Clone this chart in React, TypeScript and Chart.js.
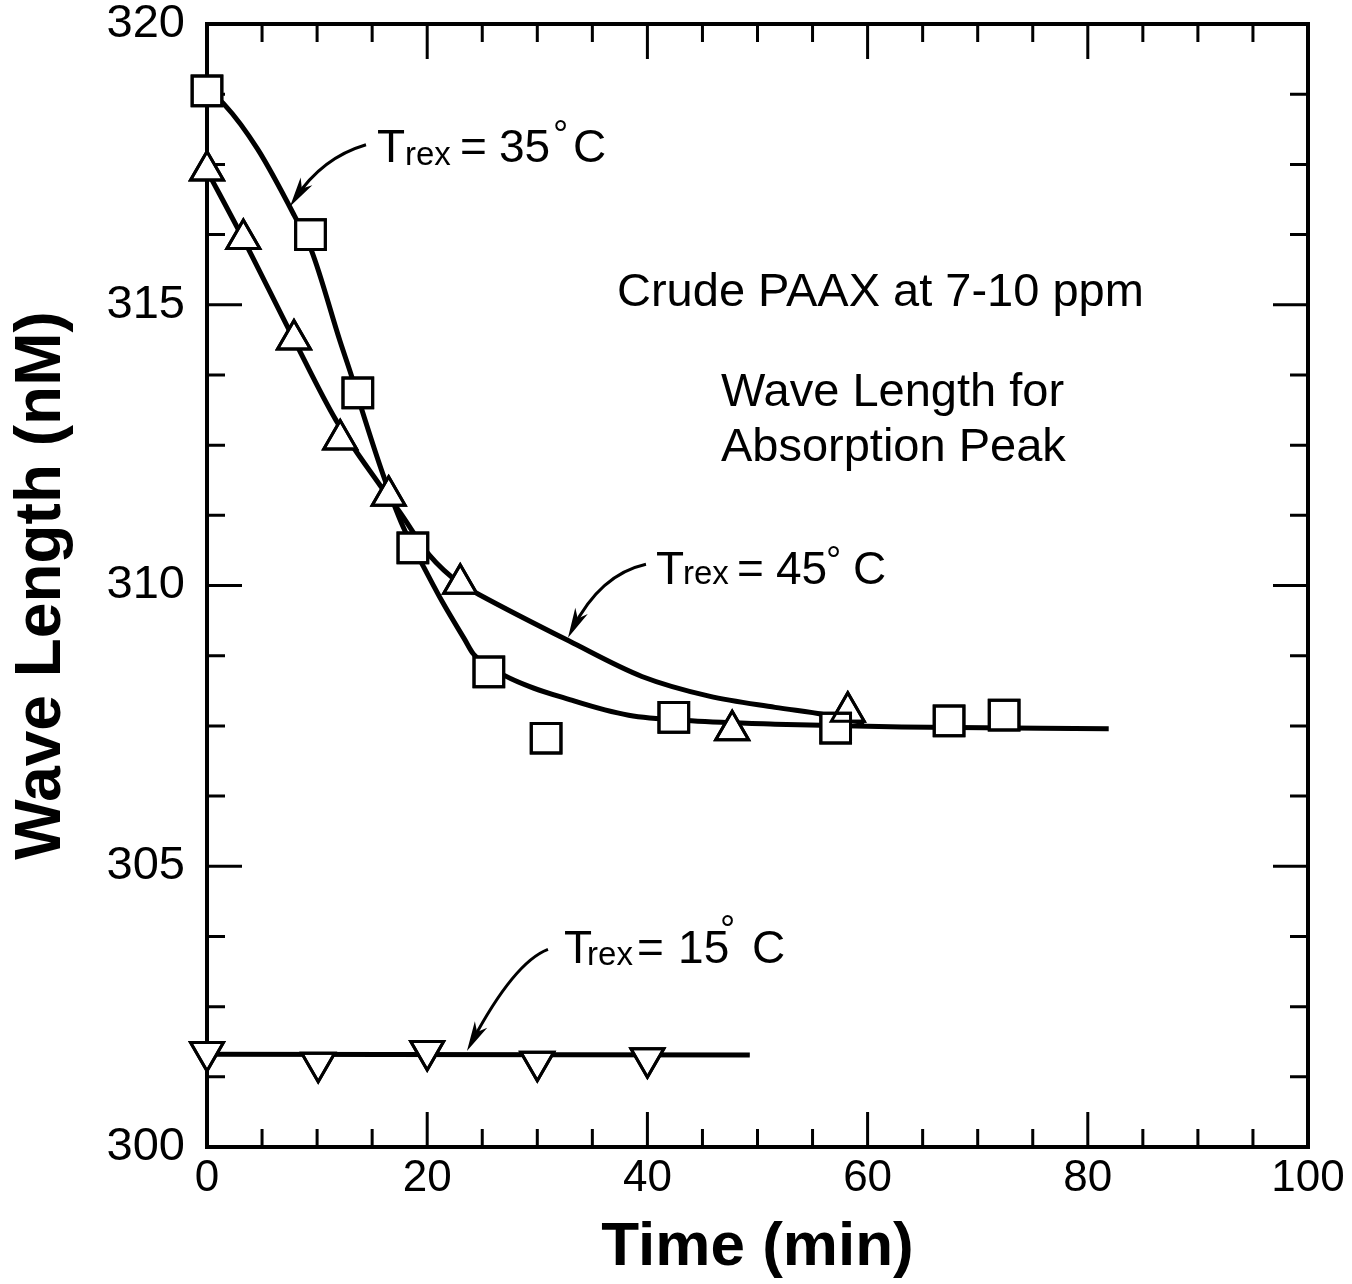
import React, { useEffect, useRef } from "react";
import { Chart, registerables } from "chart.js";

Chart.register(...registerables);

const FONT = "'Liberation Sans', Arial, Helvetica, sans-serif";

// Axis tick labels
const xTicks = [0, 20, 40, 60, 80, 100];
const yTicks = [300, 305, 310, 315, 320];

// T_rex = 35 °C (open squares)
const time35 = [0, 9.4, 13.7, 18.7, 25.6, 30.8, 42.4, 57.1, 67.4, 72.4];
const wave35 = [318.81, 316.25, 313.43, 310.67, 308.46, 307.28, 307.65, 307.46, 307.59, 307.69];

// T_rex = 45 °C (open triangles)
const time45 = [0, 3.3, 7.9, 12.1, 16.5, 23.0, 47.7, 58.2];
const wave45 = [317.39, 316.17, 314.38, 312.6, 311.6, 310.03, 307.42, 307.75];

// T_rex = 15 °C (open inverted triangles)
const time15 = [0, 10.1, 20.0, 30.0, 40.0];
const wave15 = [301.69, 301.5, 301.71, 301.52, 301.58];

// Fitted curves
const fit35Time = [0, 1.6, 4.6, 7.9, 9.5, 12.1, 13.1, 14.0, 16.0, 17.8, 19.6, 21.4, 23.4, 24.2, 27.0, 33.4, 38.3, 44.0, 51.6, 63.1, 81.9];
const fit35Wave = [318.81, 318.56, 317.77, 316.6, 315.96, 314.34, 313.75, 313.17, 311.97, 311.05, 310.36, 309.7, 309.04, 308.78, 308.4, 307.94, 307.69, 307.59, 307.53, 307.48, 307.45];
const fit45Time = [0, 3.3, 7.9, 11.7, 15.7, 17.5, 20.2, 23.0, 24.7, 32.9, 39.5, 45.6, 51.6, 56.1, 59.7];
const fit45Wave = [317.39, 316.17, 314.38, 312.95, 311.79, 311.31, 310.54, 310.03, 309.84, 309.01, 308.38, 308.03, 307.83, 307.7, 307.55];
const fit15Time = [0, 49.3];
const fit15Wave = [301.65, 301.64];

const toPts = (xs: number[], ys: number[]) => xs.map((x, i) => ({ x, y: ys[i] }));

type Piece = { t: string; dx: number; dy: number; size: number };
type Label = { x: number; y: number; pieces: Piece[] };

const trexLabels: Label[] = [
  {
    x: 15.44, y: 317.547,
    pieces: [
      { t: "T", dx: 0, dy: 0, size: 46 },
      { t: "rex", dx: 28, dy: 3, size: 33 },
      { t: "=", dx: 83, dy: 0, size: 46 },
      { t: "35", dx: 122, dy: 0, size: 46 },
      { t: "°", dx: 176, dy: -15, size: 38 },
      { t: "C", dx: 196, dy: 0, size: 46 },
    ],
  },
  {
    x: 40.78, y: 310.027,
    pieces: [
      { t: "T", dx: 0, dy: 0, size: 46 },
      { t: "rex", dx: 27, dy: 0, size: 33 },
      { t: "=", dx: 81, dy: 0, size: 46 },
      { t: "45", dx: 120, dy: 0, size: 46 },
      { t: "°", dx: 170, dy: -11, size: 38 },
      { t: "C", dx: 197, dy: 0, size: 46 },
    ],
  },
  {
    x: 32.43, y: 303.271,
    pieces: [
      { t: "T", dx: 0, dy: 0, size: 46 },
      { t: "rex", dx: 23, dy: 2, size: 33 },
      { t: "=", dx: 73, dy: 0, size: 46 },
      { t: "15", dx: 114, dy: 0, size: 46 },
      { t: "°", dx: 156, dy: -21, size: 38 },
      { t: "C", dx: 188, dy: 0, size: 46 },
    ],
  },
];

// arrows: start, control, tip (data coordinates)
const arrows = [
  [14.44, 317.85, 10.45, 317.62, 7.54, 316.75],
  [39.87, 310.38, 35.7, 310.2, 32.79, 309.07],
  [30.97, 303.52, 27.9, 303.29, 23.61, 301.71],
];

const noteLines = [
  { text: "Crude PAAX at 7-10 ppm", x: 37.24, y: 314.969 },
  { text: "Wave Length for", x: 46.68, y: 313.191 },
  { text: "Absorption Peak", x: 46.68, y: 312.213 },
];

const decor = {
  id: "decor",
  beforeDatasetsDraw(chart: any) {
    const { ctx, chartArea: a, scales } = chart;
    const x = scales.x;
    const y = scales.y;
    ctx.save();
    ctx.strokeStyle = "#000";
    ctx.lineWidth = 3;
    ctx.beginPath();
    for (let v = 5; v < 100; v += 5) {
      const px = x.getPixelForValue(v);
      const len = v % 20 === 0 ? 35 : 18;
      ctx.moveTo(px, a.bottom);
      ctx.lineTo(px, a.bottom - len);
      ctx.moveTo(px, a.top);
      ctx.lineTo(px, a.top + len);
    }
    for (let i = 1; i < 16; i++) {
      const v = 300 + i * 1.25;
      const py = y.getPixelForValue(v);
      const len = i % 4 === 0 ? 35 : 18;
      ctx.moveTo(a.left, py);
      ctx.lineTo(a.left + len, py);
      ctx.moveTo(a.right, py);
      ctx.lineTo(a.right - len, py);
    }
    ctx.stroke();
    ctx.lineWidth = 4;
    ctx.strokeRect(a.left, a.top, a.right - a.left, a.bottom - a.top);
    ctx.restore();
  },
  afterDatasetsDraw(chart: any) {
    const { ctx, scales } = chart;
    const x = scales.x;
    const y = scales.y;
    ctx.save();
    ctx.fillStyle = "#000";
    ctx.strokeStyle = "#000";
    ctx.textAlign = "left";
    ctx.textBaseline = "alphabetic";
    for (const lab of trexLabels) {
      const bx = x.getPixelForValue(lab.x);
      const by = y.getPixelForValue(lab.y);
      for (const p of lab.pieces) {
        ctx.font = `${p.size}px ${FONT}`;
        ctx.fillText(p.t, bx + p.dx, by + p.dy);
      }
    }
    ctx.font = `47px ${FONT}`;
    for (const n of noteLines) {
      ctx.fillText(n.text, x.getPixelForValue(n.x), y.getPixelForValue(n.y));
    }
    ctx.lineWidth = 3;
    for (const ar of arrows) {
      const sx = x.getPixelForValue(ar[0]);
      const sy = y.getPixelForValue(ar[1]);
      const cx = x.getPixelForValue(ar[2]);
      const cy = y.getPixelForValue(ar[3]);
      const tx = x.getPixelForValue(ar[4]);
      const ty = y.getPixelForValue(ar[5]);
      const ang = Math.atan2(ty - cy, tx - cx);
      const c = Math.cos(ang);
      const s = Math.sin(ang);
      const L = 30;
      const W = 7;
      ctx.beginPath();
      ctx.moveTo(sx, sy);
      ctx.quadraticCurveTo(cx, cy, tx - 10 * c, ty - 10 * s);
      ctx.stroke();
      const bx = tx - L * c;
      const by = ty - L * s;
      ctx.beginPath();
      ctx.moveTo(tx, ty);
      ctx.lineTo(bx - W * s, by + W * c);
      ctx.lineTo(tx - 0.72 * L * c, ty - 0.72 * L * s);
      ctx.lineTo(bx + W * s, by - W * c);
      ctx.closePath();
      ctx.fill();
    }
    ctx.restore();
  },
};

function markerSets(pts: any[], style: string, radius: number, rotation: number) {
  const base = {
    data: pts,
    showLine: false,
    pointStyle: style,
    pointRadius: radius,
    pointHoverRadius: radius,
    pointRotation: rotation,
    pointBorderColor: "#000",
    pointBorderWidth: 3,
    clip: false,
  };
  return [
    { ...base, pointBackgroundColor: "#fff", order: 2 },
    { ...base, pointBackgroundColor: "rgba(0,0,0,0)", order: 1 },
  ];
}

function curveSet(pts: any[]) {
  return {
    data: pts,
    showLine: true,
    pointRadius: 0,
    borderColor: "#000",
    borderWidth: 5,
    cubicInterpolationMode: "monotone",
    fill: false,
    clip: false,
    order: 3,
  };
}

export default function App() {
  const ref = useRef<HTMLCanvasElement | null>(null);
  useEffect(() => {
    if (!ref.current) return;
    const chart = new Chart(ref.current, {
      type: "scatter",
      data: {
        datasets: [
          curveSet(toPts(fit35Time, fit35Wave)),
          curveSet(toPts(fit45Time, fit45Wave)),
          curveSet(toPts(fit15Time, fit15Wave)),
          ...markerSets(toPts(time35, wave35), "rect", 21, 0),
          ...markerSets(toPts(time45, wave45), "triangle", 19, 0),
          ...markerSets(toPts(time15, wave15), "triangle", 19, 180),
        ] as any,
      },
      options: {
        responsive: false,
        animation: false,
        events: [],
        layout: { padding: { top: 22, right: 44, left: 0, bottom: 0 } },
        plugins: {
          legend: { display: false },
          tooltip: { enabled: false },
          title: { display: false },
        },
        scales: {
          x: {
            type: "linear",
            min: 0,
            max: 100,
            afterBuildTicks: (s: any) => {
              s.ticks = xTicks.map((v) => ({ value: v }));
            },
            afterFit: (s: any) => {
              s.height = 137;
              s.paddingLeft = 0;
              s.paddingRight = 0;
            },
            grid: { display: false },
            border: { display: false },
            ticks: {
              color: "#000",
              font: { family: FONT, size: 44, lineHeight: 1 },
              padding: 2,
              maxRotation: 0,
              autoSkip: false,
              callback: (v: any) => String(v),
            },
            title: {
              display: true,
              text: "Time (min)",
              color: "#000",
              font: { family: FONT, size: 62, weight: "bold", lineHeight: 1 },
              padding: { top: 0, bottom: 5 },
            },
          },
          y: {
            type: "linear",
            min: 300,
            max: 320,
            afterBuildTicks: (s: any) => {
              s.ticks = yTicks.map((v) => ({ value: v }));
            },
            afterFit: (s: any) => {
              s.width = 207;
              s.paddingTop = 0;
              s.paddingBottom = 0;
            },
            grid: { display: false },
            border: { display: false },
            ticks: {
              color: "#000",
              font: { family: FONT, size: 47, lineHeight: 1 },
              padding: 14,
              autoSkip: false,
              callback: (v: any) => String(v),
            },
            title: {
              display: true,
              text: "Wave Length (nM)",
              color: "#000",
              font: { family: FONT, size: 64, weight: "bold", lineHeight: 1 },
              padding: { top: 10, bottom: 0 },
            },
          },
        },
      } as any,
      plugins: [decor],
    });
    return () => chart.destroy();
  }, []);
  return (
    <div style={{ position: "absolute", left: 0, top: 0, width: 1352, height: 1284, background: "#fff" }}>
      <canvas ref={ref} width={1352} height={1284} style={{ display: "block" }} />
    </div>
  );
}
